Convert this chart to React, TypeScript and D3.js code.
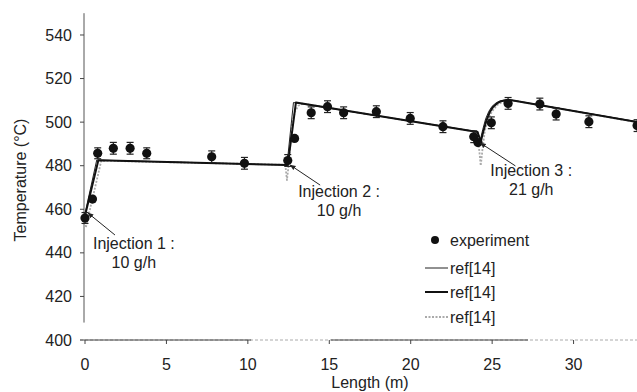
import React from "react";
import * as d3 from "d3";

// ---- data ----
const expX = [0, 0.46, 0.78, 1.74, 2.77, 3.79, 7.78, 9.79, 12.45, 12.87, 13.89, 14.89, 15.88, 17.89, 19.97, 21.98, 23.87, 24.13, 24.95, 25.98, 27.93, 28.93, 30.94, 33.9];
const expY = [456, 464.7, 485.7, 488, 488, 485.7, 484.1, 481.1, 482.4, 492.5, 504.3, 507.1, 504.3, 504.8, 501.7, 497.9, 493.3, 490.6, 499.7, 508.6, 508.3, 503.7, 500.2, 498.4];
const expErr = [2.5, 0, 2.5, 2.7, 2.7, 2.5, 2.7, 2.7, 2.7, 0, 2.7, 2.7, 2.7, 2.7, 2.7, 2.7, 2.7, 0, 2.7, 2.7, 2.7, 2.7, 2.7, 2.7];

const refThinX = [0, 0.72, 12.4, 12.8, 24.1, 24.28, 24.42, 24.6, 24.8, 25.0, 25.25, 25.5, 25.8, 26.1, 35];
const refThinY = [458, 482.6, 480.3, 509, 495.6, 492, 496.5, 501.5, 505, 507.3, 508.9, 509.8, 510.2, 510.2, 498.8];

const refThickX = [0, 0.82, 12.45, 12.95, 24.1, 24.3, 24.45, 24.65, 24.85, 25.05, 25.3, 25.55, 25.85, 26.2, 35];
const refThickY = [457, 482.5, 480.3, 509, 495.5, 491, 495.5, 500.8, 504.5, 506.9, 508.6, 509.6, 510, 510, 498.6];

const refGrayX = [0, 0.05, 0.15, 1.0, 12.3, 12.4, 12.5, 12.7, 12.9, 13.1, 13.35, 24.1, 24.3, 24.4, 24.55, 24.75, 25.0, 25.3, 25.6, 25.95, 26.4, 35];
const refGrayY = [456, 451.5, 455, 482.3, 480.4, 473.4, 480, 499, 505, 507.5, 508.5, 495.5, 480, 487, 496, 501.5, 505, 507.8, 509.2, 509.8, 509.8, 498.5];

const xTicks = [0, 5, 10, 15, 20, 25, 30];
const yTicks = [400, 420, 440, 460, 480, 500, 520, 540];

const annLabels = ["Injection 1 :", "Injection 2 :", "Injection 3 :"];
const annRates = ["10 g/h", "10 g/h", "21 g/h"];
const annTextX = [3.0, 15.6, 27.4];
const annTextY = [444.5, 468.4, 478];
const annTipX = [0.18, 12.6, 24.28];
const annTipY = [458.3, 480.3, 490.4];
const annTailX = [1.84, 14.44, 26.43];
const annTailY = [448.2, 471.1, 479.9];

const legendLabels = ["experiment", "ref[14]", "ref[14]", "ref[14]"];

const FONT = "'Liberation Sans', Arial, Helvetica, sans-serif";
const TXT = "#222";

export default function App() {
  const W = 637, H = 392;
  const x = d3.scaleLinear().domain([0, 35]).range([85, 655]);
  const y = d3.scaleLinear().domain([400, 550]).range([340, 13.2]);

  const mk = (xs: number[], ys: number[]) =>
    d3.line<number>()
      .x((_, i) => x(xs[i]))
      .y((_, i) => y(ys[i]))
      .curve(d3.curveLinear)(xs.map((_, i) => i)) || "";

  const thin = mk(refThinX, refThinY);
  const thick = mk(refThickX, refThickY);
  const gray = mk(refGrayX, refGrayY);

  const legX = 425;
  const legY = [240, 268, 292, 317];

  return (
    <svg width={W} height={H} style={{ position: "absolute", left: 0, top: 0, background: "#fff" }}
      fontFamily={FONT}>
      <defs>
        <clipPath id="plot">
          <rect x={80} y={0} width={W - 80} height={342} />
        </clipPath>
        <marker id="arr" viewBox="0 0 10 10" refX="9" refY="5" markerWidth="6" markerHeight="6" orient="auto-start-reverse">
          <path d="M0,1 L10,5 L0,9 z" fill="#222" />
        </marker>
      </defs>
      <rect width={W} height={H} fill="#fff" />

      {/* axes */}
      <line x1={x(0) - 1} x2={x(0) - 1} y1={y(550)} y2={y(408)} stroke="#555" strokeWidth={1} />
      <line x1={80} x2={W} y1={y(400)} y2={y(400)} stroke="#aaa" strokeWidth={1} strokeDasharray="3,2" />
      <line x1={80} x2={x(10.2)} y1={y(400)} y2={y(400)} stroke="#444" strokeWidth={1} />
      <line x1={x(15.1)} x2={x(27.2)} y1={y(400)} y2={y(400)} stroke="#444" strokeWidth={1} />
      {yTicks.map((t) => (
        <g key={"y" + t}>
          {t > 400 && <line x1={80} x2={84} y1={y(t)} y2={y(t)} stroke="#444" />}
          <text x={72} y={y(t)} dy="0.35em" textAnchor="end" fontSize={16} fill={TXT}>{t}</text>
        </g>
      ))}
      {xTicks.map((t) => (
        <g key={"x" + t}>
          <line x1={x(t)} x2={x(t)} y1={340} y2={344} stroke="#444" />
          <text x={x(t)} y={364} dy="0.35em" textAnchor="middle" fontSize={16} fill={TXT}>{t}</text>
        </g>
      ))}
      <text x={370} y={382} dy="0.35em" textAnchor="middle" fontSize={16} fill={TXT}>Length (m)</text>
      <text transform="translate(20,180) rotate(-90)" dy="0.35em" textAnchor="middle" fontSize={16} fill={TXT}>Temperature (°C)</text>

      {/* model lines */}
      <g clipPath="url(#plot)" fill="none" strokeLinejoin="round">
        <path d={gray} stroke="#aaa" strokeWidth={1.8} strokeDasharray="2,1.5" />
        <path d={thin} stroke="#222" strokeWidth={1} />
        <path d={thick} stroke="#111" strokeWidth={2} />
      </g>

      {/* experiment */}
      <g clipPath="url(#plot)">
        {expX.map((v, i) => (
          <g key={"e" + i}>
            {expErr[i] > 0 && (
              <g stroke="#222" strokeWidth={1.2}>
                <line x1={x(v)} x2={x(v)} y1={y(expY[i] - expErr[i])} y2={y(expY[i] + expErr[i])} />
                <line x1={x(v) - 3.5} x2={x(v) + 3.5} y1={y(expY[i] - expErr[i])} y2={y(expY[i] - expErr[i])} />
                <line x1={x(v) - 3.5} x2={x(v) + 3.5} y1={y(expY[i] + expErr[i])} y2={y(expY[i] + expErr[i])} />
              </g>
            )}
            <circle cx={x(v)} cy={y(expY[i])} r={4.6} fill="#111" />
          </g>
        ))}
      </g>

      {/* annotations */}
      {annLabels.map((l, i) => (
        <g key={"a" + i}>
          <line x1={x(annTailX[i])} y1={y(annTailY[i])} x2={x(annTipX[i])} y2={y(annTipY[i])}
            stroke="#222" strokeWidth={1} markerEnd="url(#arr)" />
          <text x={x(annTextX[i])} y={y(annTextY[i])} dy="0.35em" textAnchor="middle" fontSize={16} fill={TXT}>{l}</text>
          <text x={x(annTextX[i])} y={y(annTextY[i]) + 19.5} dy="0.35em" textAnchor="middle" fontSize={16} fill={TXT}>{annRates[i]}</text>
        </g>
      ))}

      {/* legend */}
      <circle cx={legX + 10} cy={legY[0]} r={4} fill="#111" />
      <line x1={legX} x2={legX + 23} y1={legY[1]} y2={legY[1]} stroke="#222" strokeWidth={1} />
      <line x1={legX} x2={legX + 23} y1={legY[2]} y2={legY[2]} stroke="#111" strokeWidth={2} />
      <line x1={legX} x2={legX + 23} y1={legY[3]} y2={legY[3]} stroke="#aaa" strokeWidth={1.8} strokeDasharray="2,1.5" />
      {legendLabels.map((l, i) => (
        <text key={"l" + i} x={legX + 25} y={legY[i]} dy="0.35em" fontSize={16} fill={TXT}>{l}</text>
      ))}
    </svg>
  );
}
